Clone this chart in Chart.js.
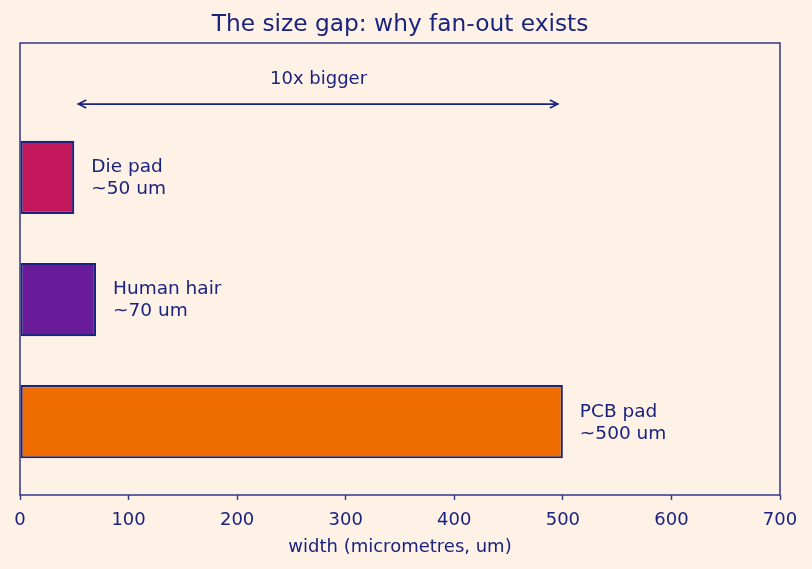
<!DOCTYPE html>
<html>
<head>
<meta charset="utf-8">
<script src="https://cdn.jsdelivr.net/npm/chart.js@4"></script>
<style>
  html, body { margin: 0; padding: 0; background: #fef1e6; }
  canvas { display: block; }
</style>
</head>
<body>
<canvas id="gap" width="812" height="569"></canvas>
<script>
const items = ['PCB pad', 'Human hair', 'Die pad'];
const widths = [500, 70, 50];
const notes = ['~500 um', '~70 um', '~50 um'];
const colours = ['#ef6c00', '#6a1b9a', '#c2185b'];
const xTicks = [0, 100, 200, 300, 400, 500, 600, 700];
const arrowFrom = 50, arrowTo = 500;

const navy = '#1a237e';
const font = 'DejaVu Sans';

const extras = {
    id: 'extras',
    beforeDraw(chart) {
        const c = chart.ctx;
        c.save();
        c.fillStyle = '#fef1e6';
        c.fillRect(0, 0, chart.width, chart.height);
        c.restore();
    },
    afterDraw(chart) {
        const c = chart.ctx, a = chart.chartArea;
        const xs = chart.scales.x, ys = chart.scales.y;
        c.save();
        // frame
        c.strokeStyle = '#2f3588';
        c.lineWidth = 1.5;
        c.strokeRect(a.left, a.top, a.right - a.left, a.bottom - a.top);

        // title
        c.fillStyle = navy;
        c.font = '23.3px "' + font + '"';
        c.textAlign = 'center';
        c.textBaseline = 'middle';
        c.fillText('The size gap: why fan-out exists', (a.left + a.right) / 2, 25);

        // bar labels
        c.font = '18.5px "' + font + '"';
        c.textAlign = 'left';
        items.forEach((name, i) => {
            const px = xs.getPixelForValue(widths[i]) + 17;
            const py = ys.getPixelForValue(i);
            c.fillText(name, px, py - 10);
            c.fillText(notes[i], px, py + 12);
        });

        // arrow
        const y = ys.getPixelForValue(2.6);
        const x1 = xs.getPixelForValue(arrowFrom) + 4;
        const x2 = xs.getPixelForValue(arrowTo) - 5;
        c.strokeStyle = navy;
        c.lineWidth = 1.6;
        c.beginPath();
        c.moveTo(x1, y); c.lineTo(x2, y);
        c.moveTo(x1 + 8, y - 4); c.lineTo(x1, y); c.lineTo(x1 + 8, y + 4);
        c.moveTo(x2 - 8, y - 4); c.lineTo(x2, y); c.lineTo(x2 - 8, y + 4);
        c.stroke();
        c.font = '18px "' + font + '"';
        c.textAlign = 'center';
        c.fillText('10x bigger', xs.getPixelForValue((arrowFrom + arrowTo) / 2), ys.getPixelForValue(2.8));
        c.restore();
    }
};

new Chart(document.getElementById('gap'), {
    type: 'bar',
    data: {
        datasets: [{
            data: widths.map((w, i) => ({x: w, y: i})),
            backgroundColor: colours,
            borderColor: navy,
            borderWidth: 2.2,
            borderSkipped: false,
            categoryPercentage: 1,
            barPercentage: 0.6
        }]
    },
    options: {
        indexAxis: 'y',
        responsive: false,
        animation: false,
        layout: { padding: { left: 20, right: 32, top: 43, bottom: 0 } },
        plugins: {
            legend: { display: false },
            title: { display: false },
            tooltip: { enabled: false }
        },
        scales: {
            x: {
                type: 'linear',
                min: 0,
                max: 700,
                afterBuildTicks: s => { s.ticks = xTicks.map(v => ({value: v})); },
                afterFit: s => { s.height = 74; },
                border: { display: false },
                grid: { drawOnChartArea: false, drawTicks: true, tickLength: 5, tickColor: '#2f3588', tickWidth: 1.4 },
                ticks: { color: navy, font: { family: font, size: 18 }, padding: 10, maxRotation: 0 },
                title: { display: true, text: 'width (micrometres, um)', color: navy, font: { family: font, size: 18 }, padding: { top: 2, bottom: 11 } }
            },
            y: {
                type: 'linear',
                min: -0.6,
                max: 3.1,
                offset: false,
                afterBuildTicks: s => { s.ticks = items.map((n, i) => ({value: i})); },
                display: false
            }
        }
    },
    plugins: [extras]
});
</script>
</body>
</html>
